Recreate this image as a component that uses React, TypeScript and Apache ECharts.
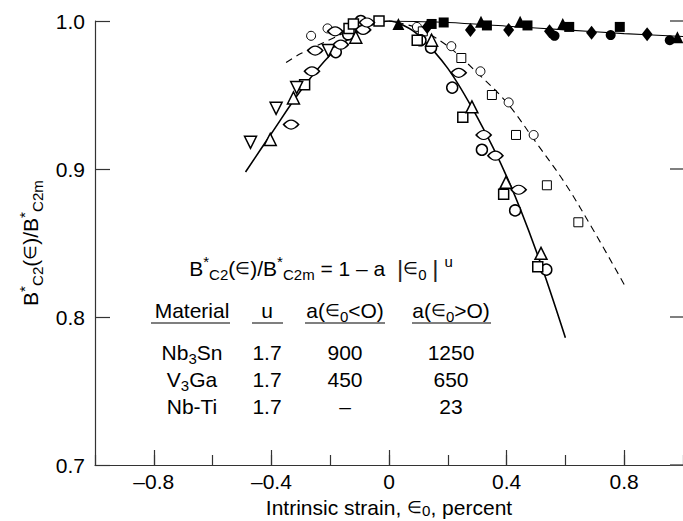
import React, { useEffect, useRef } from 'react';
import * as echarts from 'echarts';

const FONT = '"Liberation Sans", Arial, Helvetica, sans-serif';

// ---- axis ticks ----
const xMajorTicks = [-0.8, -0.4, 0, 0.4, 0.8];
const yTickLabels = ['0.7', '0.8', '0.9', '1.0'];

// ---- fitted curves ----
const nb3snCurve: [number, number][] = [
  [-0.488, 0.898], [-0.4, 0.924], [-0.3, 0.953], [-0.2, 0.977], [-0.1, 0.9935], [-0.05, 0.998],
  [0, 1.0], [0.05, 0.997], [0.1, 0.9905], [0.2, 0.968], [0.3, 0.935], [0.4, 0.895], [0.5, 0.845], [0.6, 0.786],
];
const v3gaCurve: [number, number][] = [
  [-0.35, 0.972], [-0.3, 0.978], [-0.2, 0.9875], [-0.1, 0.9965], [-0.05, 0.999], [0, 1.0], [0.05, 0.998],
  [0.1, 0.995], [0.2, 0.983], [0.3, 0.965], [0.4, 0.945], [0.5, 0.918], [0.6, 0.89], [0.7, 0.857], [0.8, 0.822],
];
const nbtiCurve: [number, number][] = [
  [0, 1.0], [0.2, 0.999], [0.4, 0.9965], [0.6, 0.994], [0.8, 0.9915], [1.0, 0.9895],
];

// ---- Nb3Sn data (open symbols) ----
const nb3snCircles: [number, number][] = [
  [-0.181, 0.979], [-0.139, 0.991], [-0.096, 1.0], [0.0, 1.001], [0.107, 0.987], [0.143, 0.982],
  [0.215, 0.955], [0.316, 0.913], [0.429, 0.872], [0.535, 0.832],
];
const nb3snSquares: [number, number][] = [
  [-0.287, 0.957], [-0.136, 0.995], [-0.121, 0.998], [-0.034, 1.0], [0.096, 0.987],
  [0.251, 0.935], [0.39, 0.883], [0.506, 0.834],
];
const nb3snTriUp: [number, number][] = [
  [-0.404, 0.92], [-0.325, 0.948], [-0.113, 0.989], [0.145, 0.987], [0.282, 0.942], [0.398, 0.891], [0.517, 0.843],
];
const nb3snTriDown: [number, number][] = [
  [-0.471, 0.918], [-0.384, 0.941], [-0.314, 0.955], [-0.206, 0.98],
];
const lensPoints: [number, number][] = [
  [-0.333, 0.93], [-0.262, 0.966], [-0.251, 0.98], [-0.183, 0.993], [-0.164, 0.984], [-0.088, 0.994],
  [-0.075, 0.999], [0.237, 0.965], [0.322, 0.923], [0.362, 0.909], [0.441, 0.886],
];

// ---- V3Ga data (small open symbols) ----
const v3gaCircles: [number, number][] = [
  [-0.265, 0.99], [-0.209, 0.995], [0.095, 0.996], [0.212, 0.983], [0.311, 0.966], [0.407, 0.945], [0.492, 0.923],
];
const v3gaSquares: [number, number][] = [
  [0.115, 0.993], [0.246, 0.975], [0.35, 0.95], [0.432, 0.923], [0.537, 0.889], [0.644, 0.864],
];

// ---- Nb-Ti data (filled symbols) ----
const nbtiTriangles: [number, number][] = [
  [0.032, 0.998], [0.313, 0.9995], [0.446, 0.9995], [0.591, 0.998], [0.981, 0.989],
];
const nbtiDiamonds: [number, number][] = [
  [0.13, 0.996], [0.277, 0.994], [0.407, 0.994], [0.546, 0.993], [0.689, 0.992], [0.878, 0.991],
];
const nbtiSquares: [number, number][] = [
  [0.145, 0.998], [0.186, 0.999], [0.333, 0.997], [0.471, 0.997], [0.613, 0.996], [0.785, 0.996],
];
const nbtiCircles: [number, number][] = [
  [0.563, 0.99], [0.754, 0.9905], [0.955, 0.987],
];

// ---- annotation table ----
const formulaText = 'B{p|*}{s|C2}({e|∈})/B{p|*}{s|C2m} = 1 – a  {b||}{e|∈}{s|0} {b||} {p|u}';
const tableHeaders = ['Material', 'u', 'a({e|∈}{s|0}<O)', 'a({e|∈}{s|0}>O)'];
const materialNames = ['Nb{s|3}Sn', 'V{s|3}Ga', 'Nb-Ti'];
const exponentU = ['1.7', '1.7', '1.7'];
const aCompressive = ['900', '450', '–'];
const aTensile = ['1250', '650', '23'];

const LENS = 'path://M0,5 Q10,-2 20,5 Q10,12 0,5 Z';

function richAxis(size: number) {
  return {
    p: { fontSize: size * 0.72, fontFamily: FONT, color: '#000', lineHeight: 12, verticalAlign: 'top' },
    s: { fontSize: size * 0.72, fontFamily: FONT, color: '#000', lineHeight: 12, verticalAlign: 'bottom' },
    e: { fontSize: size * 0.8, fontFamily: FONT, color: '#000', lineHeight: 20, verticalAlign: 'middle' },
  };
}

function gRich(size: number) {
  return {
    p: { font: `${Math.round(size * 0.72)}px ${FONT}`, fill: '#000', lineHeight: 12, verticalAlign: 'top' },
    s: { font: `${Math.round(size * 0.72)}px ${FONT}`, fill: '#000', lineHeight: 12, verticalAlign: 'bottom' },
    e: { font: `${Math.round(size * 0.8)}px ${FONT}`, fill: '#000', lineHeight: 22, verticalAlign: 'middle' },
    b: { font: `24px ${FONT}`, fill: '#222', lineHeight: 28, verticalAlign: 'middle' },
  };
}

function gText(text: string, x: number, y: number, size = 21) {
  return {
    type: 'text',
    x,
    y,
    silent: true,
    style: {
      text,
      font: `${size}px ${FONT}`,
      fill: '#000',
      align: 'center',
      verticalAlign: 'middle',
      lineHeight: 28,
      rich: gRich(size),
    },
  };
}

function gLine(x1: number, x2: number, y: number) {
  return {
    type: 'line',
    silent: true,
    shape: { x1, y1: y, x2, y2: y },
    style: { stroke: '#555', lineWidth: 1.5 },
  };
}

const colX = [192, 267, 345, 451];
const rowY = [352, 379, 406];

function buildGraphic() {
  const els: any[] = [];
  els.push(gText(formulaText, 321, 268));
  tableHeaders.forEach((h, i) => els.push(gText(h, colX[i], 310)));
  els.push(gLine(151, 230, 323));
  els.push(gLine(252, 283, 323));
  els.push(gLine(305, 385, 323));
  els.push(gLine(412, 491, 323));
  const cols = [materialNames, exponentU, aCompressive, aTensile];
  cols.forEach((col, i) => col.forEach((t, r) => els.push(gText(t, colX[i], rowY[r]))));
  return els;
}

function fmtX(v: number) {
  const r = Math.round(v * 10) / 10;
  const isMajor = xMajorTicks.some((m) => Math.abs(m - r) < 1e-6);
  if (!isMajor) return '';
  if (r === 0) return '0';
  return r < 0 ? '–' + Math.abs(r).toFixed(1) : r.toFixed(1);
}

function fmtY(v: number) {
  const s = v.toFixed(1);
  return yTickLabels.includes(s) ? s : '';
}

function lineSeries(data: [number, number][], type: any, width: number) {
  return {
    type: 'line',
    data,
    smooth: 0.35,
    symbol: 'none',
    showSymbol: false,
    silent: true,
    lineStyle: { color: '#000', width, type },
    z: 2,
  };
}

function scatter(data: [number, number][], symbol: string, size: any, filled: boolean, rotate = 0, bw = 1.5) {
  return {
    type: 'scatter',
    data,
    symbol,
    symbolSize: size,
    symbolRotate: rotate,
    silent: true,
    itemStyle: {
      color: filled ? '#000' : '#fff',
      borderColor: '#000',
      borderWidth: filled ? 0 : bw,
      opacity: 1,
    },
    z: 3,
  };
}

const axisColor = '#333';

const option: any = {
  animation: false,
  backgroundColor: '#fff',
  grid: { left: 95, right: 0, top: 21, bottom: 56, containLabel: false, outerBoundsMode: 'none' },
  xAxis: [
    {
      type: 'value',
      min: -1,
      max: 1,
      interval: 0.2,
      axisLine: { show: true, onZero: false, lineStyle: { color: axisColor, width: 1.2 } },
      axisTick: { show: true, inside: true, length: 10, lineStyle: { color: axisColor, width: 1.2 } },
      splitLine: { show: false },
      axisLabel: {
        formatter: fmtX,
        fontSize: 21,
        fontFamily: FONT,
        color: '#000',
        margin: 6,
        showMinLabel: true,
        showMaxLabel: true,
      },
      name: 'Intrinsic strain, {e|∈}{s|0}, percent',
      nameLocation: 'middle',
      nameGap: 30,
      nameTextStyle: { fontSize: 21, fontFamily: FONT, color: '#000', lineHeight: 21, rich: richAxis(21) },
    },
    {
      type: 'value',
      min: -1,
      max: 1,
      position: 'bottom',
      axisLine: { show: false, onZero: false },
      axisTick: {
        show: true,
        inside: true,
        length: 15,
        customValues: xMajorTicks,
        lineStyle: { color: axisColor, width: 1.2 },
      },
      axisLabel: { show: false },
      splitLine: { show: false },
    },
  ],
  yAxis: [
    {
      type: 'value',
      min: 0.7,
      max: 1.0,
      interval: 0.1,
      position: 'left',
      axisLine: { show: true, onZero: false, lineStyle: { color: axisColor, width: 1.2 } },
      axisTick: { show: true, inside: true, length: 15, lineStyle: { color: axisColor, width: 1.2 } },
      splitLine: { show: false },
      axisLabel: { formatter: fmtY, fontSize: 21, fontFamily: FONT, color: '#000', margin: 10 },
      name: 'B{p|*}{s|C2}({e|∈})/B{p|*}{s|C2m}',
      nameLocation: 'middle',
      nameGap: 48,
      nameTextStyle: { fontSize: 21, fontFamily: FONT, color: '#000', lineHeight: 28, rich: richAxis(21) },
    },
    {
      type: 'value',
      min: 0.7,
      max: 1.0,
      interval: 0.1,
      position: 'right',
      axisLine: { show: false, onZero: false },
      axisTick: { show: true, inside: true, length: 13, lineStyle: { color: '#555', width: 1.5 } },
      splitLine: { show: false },
      axisLabel: { show: false },
    },
  ],
  series: [
    lineSeries(nb3snCurve, 'solid', 1.6),
    lineSeries(v3gaCurve, [7, 5], 1.1),
    lineSeries(nbtiCurve, 'solid', 1.1),
    scatter(v3gaCircles, 'circle', 9, false, 0, 1),
    scatter(v3gaSquares, 'rect', 9, false, 0, 1),
    scatter(nb3snCircles, 'circle', 11, false),
    scatter(nb3snSquares, 'rect', 10, false),
    scatter(nb3snTriUp, 'triangle', 12, false),
    scatter(nb3snTriDown, 'triangle', 12, false, 180),
    scatter(lensPoints, LENS, [15, 9], false),
    scatter(nbtiTriangles, 'triangle', 12, true),
    scatter(nbtiDiamonds, 'diamond', [11, 14], true),
    scatter(nbtiSquares, 'rect', 10, true),
    scatter(nbtiCircles, 'circle', 10, true),
  ],
  graphic: buildGraphic(),
};

export default function App() {
  const ref = useRef<HTMLDivElement>(null);
  useEffect(() => {
    if (!ref.current) return;
    const chart = echarts.init(ref.current, undefined, { renderer: 'svg' });
    chart.setOption(option);
    return () => {
      chart.dispose();
    };
  }, []);
  return (
    <div
      ref={ref}
      style={{ position: 'fixed', left: 0, top: 0, width: 683, height: 521, background: '#fff' }}
    />
  );
}
